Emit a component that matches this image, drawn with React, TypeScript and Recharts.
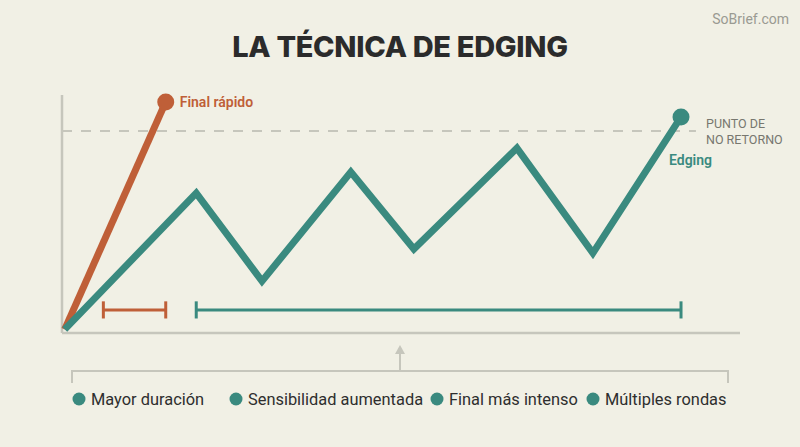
import React from "react";
import { ComposedChart, Line, XAxis, YAxis, ReferenceLine } from "recharts";

const rapidX = [0.4, 15.3];
const rapidY = [1.5, 97.1];
const edgingX = [0.4, 19.8, 29.5, 42.6, 51.9, 67.1, 78.3, 91.3];
const edgingY = [1.5, 58.8, 21.8, 67.6, 35.3, 77.7, 33.6, 90.8];
const noReturnLevel = 84.9;
const rapidRange = [6.1, 15.3];
const edgingRange = [19.8, 91.3];
const rangeLevel = 9.7;
const capHalf = 3.6;
const legendItems = ["Mayor duración", "Sensibilidad aumentada", "Final más intenso", "Múltiples rondas"];
const legendDotX = [79, 236, 437, 593];

const ORANGE = "#bf5f38";
const TEAL = "#3a8a7f";
const GRAY = "#c6c6bc";
const BG = "#f1f0e5";

const rapidData = rapidX.map((x, i) => ({ x, y: rapidY[i] }));
const edgingData = edgingX.map((x, i) => ({ x, y: edgingY[i] }));

const endDot = (color: string, label: string, dx: number, dy: number, n: number) => (props: any) => {
  const { cx, cy, index } = props;
  if (index !== n - 1) return <g key={index} />;
  return (
    <g key={index}>
      <circle cx={cx} cy={cy} r={8.5} fill={color} />
      <text x={cx + dx} y={cy + dy} fill={color} fontSize={14} fontWeight={600} fontFamily="Roboto" dominantBaseline="middle">
        {label}
      </text>
    </g>
  );
};

function Bracket({ range, color }: { range: number[]; color: string }) {
  return (
    <>
      <ReferenceLine segment={[{ x: range[0], y: rangeLevel }, { x: range[1], y: rangeLevel }]} stroke={color} strokeWidth={3} />
      <ReferenceLine segment={[{ x: range[0], y: rangeLevel - capHalf }, { x: range[0], y: rangeLevel + capHalf }]} stroke={color} strokeWidth={3} />
      <ReferenceLine segment={[{ x: range[1], y: rangeLevel - capHalf }, { x: range[1], y: rangeLevel + capHalf }]} stroke={color} strokeWidth={3} />
    </>
  );
}

export default function App() {
  return (
    <div style={{ position: "absolute", left: 0, top: 0, width: 800, height: 447, background: BG, fontFamily: "Roboto" }}>
      <div style={{ position: "absolute", left: 0, top: 29, width: 800, textAlign: "center", fontFamily: "Inter", fontWeight: 800, fontSize: 29, color: "#2b2b2b", letterSpacing: -0.3 }}>
        LA TÉCNICA DE EDGING
      </div>
      <div style={{ position: "absolute", right: 11, top: 11, fontFamily: "Roboto", fontSize: 14, color: "#9a9a92" }}>SoBrief.com</div>
      <ComposedChart width={800} height={447} margin={{ top: 95, right: 60, bottom: 114, left: 62 }} style={{ position: "absolute", left: 0, top: 0 }}>
        <XAxis type="number" dataKey="x" domain={[0, 100]} hide />
        <YAxis type="number" dataKey="y" domain={[0, 100]} hide />
        <ReferenceLine segment={[{ x: 0, y: 0 }, { x: 0, y: 100 }]} stroke={GRAY} strokeWidth={2.5} />
        <ReferenceLine segment={[{ x: 0, y: 0 }, { x: 100, y: 0 }]} stroke={GRAY} strokeWidth={2.5} />
        <ReferenceLine segment={[{ x: 0, y: noReturnLevel }, { x: 93.5, y: noReturnLevel }]} stroke={GRAY} strokeWidth={2} strokeDasharray="10 9" />
        {Bracket({ range: rapidRange, color: ORANGE })}
        {Bracket({ range: edgingRange, color: TEAL })}
        <Line data={rapidData} dataKey="y" stroke={ORANGE} strokeWidth={7} strokeLinejoin="miter" dot={endDot(ORANGE, "Final rápido", 14, 1, rapidData.length)} activeDot={false} isAnimationActive={false} />
        <Line data={edgingData} dataKey="y" stroke={TEAL} strokeWidth={7} strokeLinejoin="miter" dot={endDot(TEAL, "Edging", -12, 44, edgingData.length)} activeDot={false} isAnimationActive={false} />
      </ComposedChart>
      <div style={{ position: "absolute", left: 706, top: 116, fontSize: 12.5, lineHeight: "16px", color: "#77776f" }}>
        PUNTO DE<br />NO RETORNO
      </div>
      <svg width={800} height={447} style={{ position: "absolute", left: 0, top: 0, pointerEvents: "none" }}>
        <polyline points="72,383 72,371 728,371 728,383" fill="none" stroke={GRAY} strokeWidth={2} />
        <line x1={400} y1={371} x2={400} y2={352} stroke={GRAY} strokeWidth={2} />
        <polygon points="400,345 395,354 405,354" fill={GRAY} />
        {legendItems.map((t, i) => (
          <g key={t}>
            <circle cx={legendDotX[i]} cy={399} r={6.5} fill={TEAL} />
            <text x={legendDotX[i] + 12} y={399} fontSize={16.4} fill="#2e2e2e" fontFamily="Roboto" dominantBaseline="central">{t}</text>
          </g>
        ))}
      </svg>
    </div>
  );
}
